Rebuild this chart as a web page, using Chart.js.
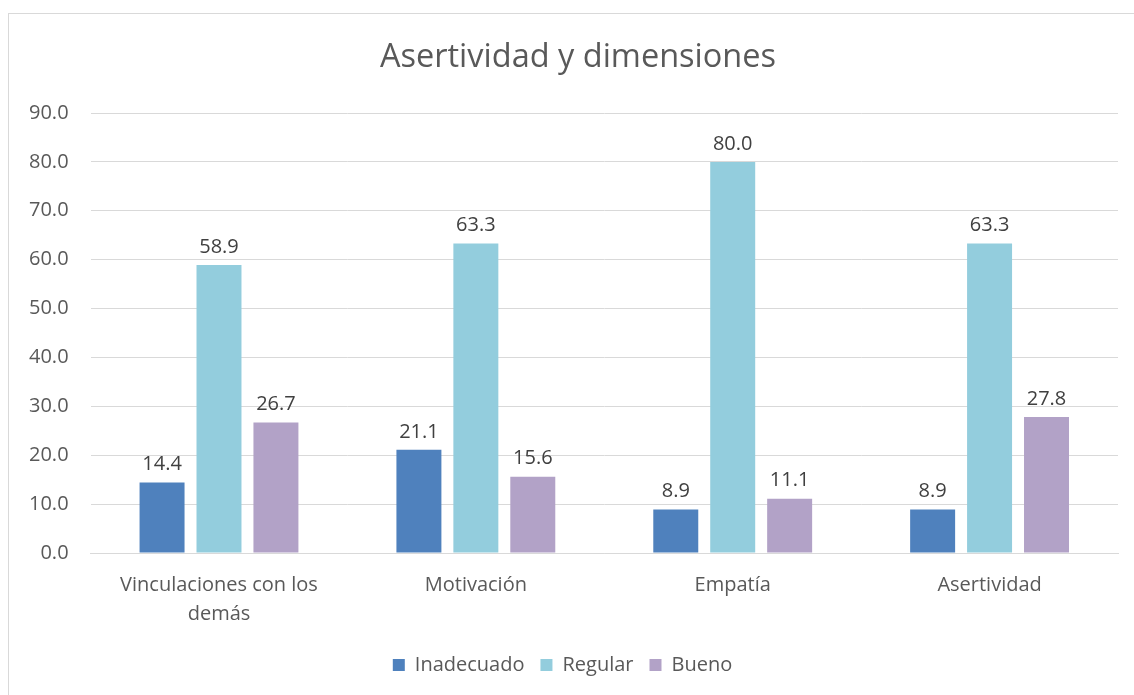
<!DOCTYPE html>
<html>
<head>
<meta charset="utf-8">
<script src="https://cdn.jsdelivr.net/npm/chart.js@4/dist/chart.umd.min.js"></script>
<style>
  body { margin: 0; background: #fff; }
  #frame { position: absolute; left: 8px; top: 13px; width: 1140px; height: 700px; border: 1px solid #d9d9d9; }
  #wrap { position: absolute; left: 0; top: 0; width: 1134px; height: 695px; }
</style>
</head>
<body>
<div id="frame"></div>
<div id="wrap"><canvas id="chart"></canvas></div>
<script>
// datos del gráfico
const titulo = 'Asertividad y dimensiones';
const categorias = [['Vinculaciones con los', 'demás'], 'Motivación', 'Empatía', 'Asertividad'];
const inadecuado = [14.4, 21.1, 8.9, 8.9];
const regular = [58.9, 63.3, 80.0, 63.3];
const bueno = [26.7, 15.6, 11.1, 27.8];
const fuente = "'Open Sans', 'Liberation Sans', sans-serif";

// etiquetas encima de las barras + título centrado en el marco
const etiquetas = {
  id: 'etiquetas',
  afterDatasetsDraw(chart) {
    const ctx = chart.ctx;
    ctx.save();
    ctx.font = '20px ' + fuente;
    ctx.fillStyle = '#404040';
    ctx.textAlign = 'center';
    ctx.textBaseline = 'bottom';
    chart.data.datasets.forEach((ds, i) => {
      chart.getDatasetMeta(i).data.forEach((bar, j) => {
        ctx.fillText(ds.data[j].toFixed(1), bar.x, bar.y - 8);
      });
    });
    ctx.font = '32.5px ' + fuente;
    ctx.fillStyle = '#595959';
    ctx.textBaseline = 'middle';
    ctx.fillText(titulo, 578, 58);
    ctx.restore();
  }
};

new Chart(document.getElementById('chart'), {
  type: 'bar',
  data: {
    labels: categorias,
    datasets: [
      { label: 'Inadecuado', data: inadecuado, backgroundColor: '#4F81BD' },
      { label: 'Regular', data: regular, backgroundColor: '#93CDDD' },
      { label: 'Bueno', data: bueno, backgroundColor: '#B2A2C7' }
    ]
  },
  options: {
    responsive: true,
    maintainAspectRatio: false,
    animation: false,
    categoryPercentage: 0.665,
    barPercentage: 0.79,
    layout: { padding: { left: 7, right: 16, top: 113, bottom: 10 } },
    plugins: {
      legend: {
        position: 'bottom',
        labels: {
          color: '#595959',
          font: { family: fuente, size: 20 },
          boxWidth: 12,
          boxHeight: 12,
          padding: 16
        }
      },
      tooltip: { enabled: false }
    },
    scales: {
      x: {
        grid: { display: false },
        border: { color: '#d9d9d9' },
        ticks: { color: '#595959', font: { family: fuente, size: 20, lineHeight: 1.45 }, padding: 10, maxRotation: 0 }
      },
      y: {
        min: 0,
        max: 90,
        grid: { color: '#d9d9d9', drawTicks: false },
        border: { display: false },
        ticks: {
          stepSize: 10,
          color: '#595959',
          font: { family: fuente, size: 20 },
          padding: 22,
          callback: v => v.toFixed(1)
        }
      }
    }
  },
  plugins: [etiquetas]
});
</script>
</body>
</html>
